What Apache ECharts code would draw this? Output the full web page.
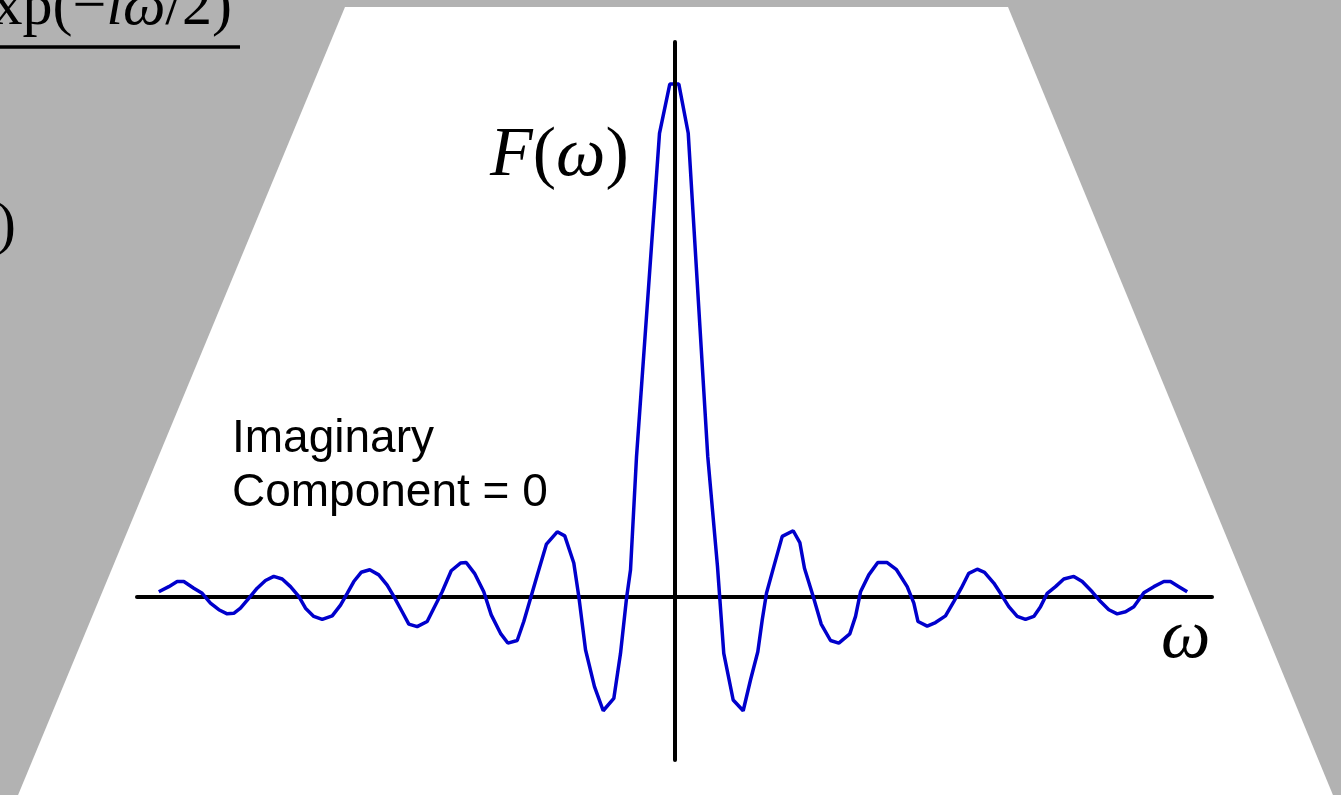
<!DOCTYPE html>
<html>
<head>
<meta charset="utf-8">
<title>F(ω)</title>
<script src="https://cdn.jsdelivr.net/npm/echarts@6/dist/echarts.min.js"></script>
<style>
  html, body { margin: 0; padding: 0; background: #b2b2b2; }
  #chart { width: 1341px; height: 795px; }
</style>
</head>
<body>
<div id="chart"></div>
<script>
// Sampled spectrum: frequency positions and real amplitude of F(ω)
const omega = [
  -69.08, -67.74, -66.62, -65.73, -64.39, -63.27, -62.16, -61.04, -59.92, -59.04,
  -58.14, -57.03, -55.90, -54.79, -53.68, -52.55, -51.44, -50.33, -49.43, -48.32,
  -47.19, -45.85, -44.74, -43.84, -42.96, -41.97, -40.82, -39.61, -38.49, -37.60,
  -36.48, -35.59, -34.47, -33.13, -32.24, -31.12, -29.91, -28.67, -27.90, -26.79,
  -25.55, -24.55, -23.31, -22.33, -21.07, -20.19, -19.29, -18.31, -17.15, -15.71,
  -14.70, -13.49, -12.82, -11.92, -10.72, -9.55, -8.13, -7.23, -6.43, -5.89,
  -5.09, -2.01, -0.63, 0.58, 1.84, 4.46, 5.76, 6.60, 7.86, 9.20,
  10.18, 11.16, 11.75, 12.32, 13.30, 14.43, 15.90, 16.79, 17.41, 18.58,
  19.65, 20.90, 22.01, 23.48, 24.25, 24.92, 26.03, 27.23, 28.49, 29.74,
  31.17, 32.06, 32.62, 33.85, 34.96, 36.30, 37.41, 38.41, 39.42, 40.55,
  41.53, 42.77, 43.67, 44.78, 45.91, 47.02, 48.13, 49.03, 49.93, 51.04,
  52.15, 53.49, 54.62, 55.95, 57.07, 58.18, 59.30, 60.42, 61.53, 62.87,
  64.21, 65.55, 66.44, 67.56, 68.68
];
const amplitude = [
  0.010, 0.020, 0.030, 0.030, 0.017, 0.007, -0.012, -0.025, -0.033, -0.032,
  -0.022, -0.003, 0.017, 0.032, 0.040, 0.035, 0.020, 0.001, -0.022, -0.038,
  -0.044, -0.037, -0.016, 0.007, 0.030, 0.048, 0.053, 0.043, 0.023, 0.001,
  -0.029, -0.053, -0.058, -0.048, -0.022, 0.010, 0.051, 0.066, 0.067, 0.046,
  0.010, -0.035, -0.071, -0.090, -0.085, -0.048, -0.003, 0.046, 0.103, 0.127,
  0.119, 0.066, 0.001, -0.103, -0.175, -0.222, -0.198, -0.110, -0.003, 0.053,
  0.273, 0.904, 1.000, 1.000, 0.904, 0.273, 0.059, -0.110, -0.201, -0.222,
  -0.162, -0.107, -0.045, 0.007, 0.059, 0.118, 0.129, 0.106, 0.056, 0.001,
  -0.053, -0.085, -0.090, -0.072, -0.038, 0.010, 0.043, 0.067, 0.067, 0.053,
  0.020, -0.012, -0.048, -0.057, -0.050, -0.037, -0.009, 0.017, 0.046, 0.054,
  0.048, 0.027, 0.007, -0.019, -0.038, -0.044, -0.038, -0.019, 0.007, 0.020,
  0.035, 0.040, 0.030, 0.010, -0.009, -0.025, -0.033, -0.029, -0.019, 0.008,
  0.020, 0.030, 0.030, 0.020, 0.010
];

const points = omega.map((w, i) => [w, amplitude[i]]);

const serif = '"Liberation Serif", "Times New Roman", serif';
const sans = '"Liberation Sans", Arial, sans-serif';

const chart = echarts.init(document.getElementById('chart'), null, { renderer: 'canvas' });

chart.setOption({
  backgroundColor: '#b2b2b2',
  animation: false,
  grid: { left: 137, right: 129, top: 42, bottom: 35, containLabel: false },
  xAxis: {
    type: 'value',
    min: -72,
    max: 72,
    z: 0,
    axisLine: { onZero: true, lineStyle: { color: '#000', width: 4 } },
    axisTick: { show: false },
    axisLabel: { show: false },
    splitLine: { show: false }
  },
  yAxis: {
    type: 'value',
    min: -0.318,
    max: 1.082,
    z: 5,
    axisLine: { onZero: true, lineStyle: { color: '#000', width: 4 } },
    axisTick: { show: false },
    axisLabel: { show: false },
    splitLine: { show: false }
  },
  series: [{
    type: 'line',
    data: points,
    showSymbol: false,
    smooth: false,
    z: 3,
    lineStyle: { color: '#0000cc', width: 3.5 }
  }],
  graphic: [
    {
      type: 'polygon',
      z: -10,
      silent: true,
      shape: { points: [[345, 7], [1008, 7], [1335, 800], [16, 800]] },
      style: { fill: '#ffffff' }
    },
    {
      type: 'text',
      z: 10,
      x: 232,
      y: 38,
      style: {
        text: '{u|exp(−}{i|iω}{u|/2)}',
        align: 'right',
        verticalAlign: 'bottom',
        rich: {
          u: { font: '60px ' + serif, fill: '#000' },
          i: { font: 'italic 60px ' + serif, fill: '#000' }
        }
      }
    },
    {
      type: 'line',
      z: 10,
      shape: { x1: 0, y1: 47, x2: 240, y2: 47 },
      style: { stroke: '#000', lineWidth: 3.5 }
    },
    {
      type: 'text',
      z: 10,
      x: 16,
      y: 257,
      style: {
        text: ')',
        font: '60px ' + serif,
        fill: '#000',
        align: 'right',
        verticalAlign: 'bottom'
      }
    },
    {
      type: 'text',
      z: 10,
      x: 490,
      y: 192,
      style: {
        text: '{i|F}{u|(}{i|ω}{u|)}',
        align: 'left',
        verticalAlign: 'bottom',
        rich: {
          u: { font: '70px ' + serif, fill: '#000' },
          i: { font: 'italic 70px ' + serif, fill: '#000' }
        }
      }
    },
    {
      type: 'text',
      z: 10,
      x: 1161,
      y: 674,
      style: {
        text: 'ω',
        font: 'italic 70px ' + serif,
        fill: '#000',
        align: 'left',
        verticalAlign: 'bottom'
      }
    },
    {
      type: 'text',
      z: 10,
      x: 232,
      y: 439,
      style: {
        text: 'Imaginary',
        font: '46px ' + sans,
        fill: '#000',
        align: 'left',
        verticalAlign: 'middle'
      }
    },
    {
      type: 'text',
      z: 10,
      x: 232,
      y: 493,
      style: {
        text: 'Component = 0',
        font: '46px ' + sans,
        fill: '#000',
        align: 'left',
        verticalAlign: 'middle'
      }
    }
  ]
});
</script>
</body>
</html>
